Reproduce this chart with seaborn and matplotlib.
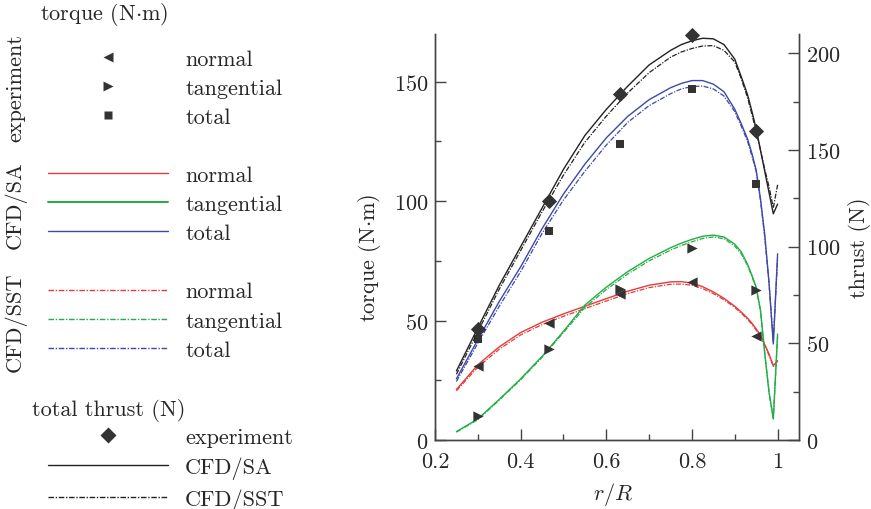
import matplotlib.pyplot as plt
import seaborn as sns
import pandas as pd
from matplotlib.lines import Line2D

# radial stations of the CFD curves
r_cfd = [0.25, 0.3, 0.35, 0.4, 0.45, 0.5, 0.55, 0.6, 0.65, 0.7, 0.75, 0.775,
         0.8, 0.825, 0.85, 0.875, 0.9, 0.915, 0.93, 0.94, 0.95, 0.96, 0.97,
         0.98, 0.99, 1.0]

# torque (N.m), CFD/SA
normal_sa = [21.1, 31.5, 39, 45, 49.3, 52.8, 56, 59.2, 62.3, 64.8, 66.2, 66.3,
             65.7, 64.2, 62, 59.3, 56, 53.6, 51, 48.9, 46.5, 44, 40, 36, 31.1,
             33.2]
tangential_sa = [3.5, 8.8, 17, 25.6, 35, 45.5, 56.5, 64, 70.5, 76, 80.5, 82.4,
                 84, 85.3, 85.8, 85, 82, 78.8, 73.5, 69, 64, 54.5, 36.5, 20,
                 8.8, 44.4]
total_sa = [25.6, 42, 58, 72.5, 88.5, 103, 115.5, 126.5, 135.5, 142.5, 147.5,
            149.3, 150.5, 150.5, 149, 145.8, 138.5, 132.5, 126, 120, 113, 101,
            86, 66, 40.2, 78]

# torque (N.m), CFD/SST
normal_sst = [20.6, 30.5, 38, 44, 48.3, 51.8, 55, 58.2, 61.3, 63.8, 65.2, 65.3,
              64.8, 63.4, 61.3, 58.7, 55.5, 53.1, 50.5, 48.4, 46, 43.5, 39.5,
              35.5, 30.8, 33]
tangential_sst = [3.3, 8.5, 16.7, 25.2, 34.6, 45, 55.5, 63, 69.5, 75, 79.5,
                  81.4, 83, 84.4, 85, 84.3, 81.2, 78, 73, 68.5, 63.5, 54, 36,
                  20, 9, 43.5]
total_sst = [24.5, 40.5, 56, 70.5, 86.5, 100.5, 112.5, 123.5, 133, 140, 145,
             147, 148, 148.2, 147, 144, 137.5, 131.5, 125, 119, 112.5, 100.5,
             85, 65.5, 41, 76]

# thrust (N)
thrust_sa = [35.7, 58, 80, 100, 120, 140, 157.5, 171, 183, 194, 201.5, 204.5,
             206.5, 207.8, 207.5, 204.5, 197, 188, 178.5, 170, 161, 150, 139,
             128, 117, 122]
thrust_sst = [34, 56, 78, 98, 118, 137, 154, 167.5, 179.5, 190, 198, 200.7,
              202.5, 203.8, 204, 201.5, 195.5, 187, 177, 168.5, 159.5, 150,
              140, 131, 120, 132]

# experiment
r_exp = [0.3, 0.467, 0.633, 0.8, 0.95]
normal_exp = [31.1, 48.9, 61.2, 66.1, 43.7]
tangential_exp = [10.2, 38.1, 63.3, 80.3, 62.6]
total_exp = [42.3, 87.6, 124.1, 147.1, 107.0]
thrust_exp = [57.2, 123.7, 178.9, 209.7, 160.0]

RED = '#e43b3b'
GREEN = '#23ad45'
BLUE = '#3f48a8'
BLACK = '#222222'
MK = '#333333'
SPINE = '#444444'
SST_LS = (0, (4, 1.2, 1, 1.2))

sns.set_style('ticks')
plt.rcParams['font.family'] = ['cmr10', 'DejaVu Serif']
plt.rcParams['mathtext.fontset'] = 'cm'
plt.rcParams['axes.formatter.use_mathtext'] = True
plt.rcParams['font.size'] = 16

cfd = pd.DataFrame({'r': r_cfd,
                    'normal_sa': normal_sa, 'tangential_sa': tangential_sa,
                    'total_sa': total_sa, 'normal_sst': normal_sst,
                    'tangential_sst': tangential_sst, 'total_sst': total_sst,
                    'thrust_sa': thrust_sa, 'thrust_sst': thrust_sst})

fig = plt.figure(figsize=(8.71, 5.10), dpi=100)
ax = fig.add_axes([435 / 871, 69 / 510, 364 / 871, 406 / 510])
ax2 = ax.twinx()

for name, color in [('normal', RED), ('tangential', GREEN), ('total', BLUE)]:
    sns.lineplot(data=cfd, x='r', y=name + '_sst', color=color, lw=0.9,
                 linestyle=SST_LS, ax=ax)
    sns.lineplot(data=cfd, x='r', y=name + '_sa', color=color, lw=1.0, ax=ax)

sns.lineplot(data=cfd, x='r', y='thrust_sst', color=BLACK, lw=0.9,
             linestyle=SST_LS, ax=ax2)
sns.lineplot(data=cfd, x='r', y='thrust_sa', color=BLACK, lw=1.0, ax=ax2)

sns.scatterplot(x=r_exp, y=normal_exp, marker='<', s=55, color=MK,
                linewidth=0, ax=ax, zorder=5)
sns.scatterplot(x=r_exp, y=tangential_exp, marker='>', s=55, color=MK,
                linewidth=0, ax=ax, zorder=5)
sns.scatterplot(x=r_exp, y=total_exp, marker='s', s=32, color=MK,
                linewidth=0, ax=ax, zorder=5)
sns.scatterplot(x=r_exp, y=thrust_exp, marker='D', s=60, color=MK,
                linewidth=0, ax=ax2, zorder=5, clip_on=False)

ax.set_xlim(0.2, 1.05)
ax.set_ylim(0, 170)
ax2.set_ylim(0, 210)
ax.set_xticks([0.2, 0.4, 0.6, 0.8, 1.0])
ax.set_xticklabels(['0.2', '0.4', '0.6', '0.8', '1'])
ax.set_xticks([0.3, 0.5, 0.7, 0.9], minor=True)
ax.set_yticks([0, 50, 100, 150])
ax.set_yticks([25, 75, 125], minor=True)
ax2.set_yticks([0, 50, 100, 150, 200])
ax2.set_yticks([25, 75, 125, 175], minor=True)

for a in (ax, ax2):
    a.spines['top'].set_visible(False)
    for s in a.spines.values():
        s.set_color(SPINE)
        s.set_linewidth(1.0)
    a.tick_params(which='major', direction='in', length=8, width=1.0,
                  color=SPINE, labelsize=16, pad=5)
    a.tick_params(which='minor', direction='in', length=4, width=1.0,
                  color=SPINE)
ax.tick_params(axis='y', which='both', right=False)
ax.tick_params(axis='x', which='both', top=False)
ax.tick_params(axis='x', which='major', pad=8)

ax.set_xlabel('$r/R$', fontsize=16)
ax.set_ylabel(r'torque (N$\cdot$m)', fontsize=16)
ax2.set_ylabel('thrust (N)', fontsize=16)
ax.xaxis.set_label_coords((613 - 435) / 364, -(481 - 441) / 406)
ax.yaxis.set_label_coords(-(435 - 383) / 364, (441 - 258) / 406)
ax2.yaxis.set_label_coords(1 + (848 - 799) / 364, (441 - 248) / 406)

# legend block on the left
blank = Line2D([], [], ls='none')
handles = [
    Line2D([], [], ls='none', marker='<', ms=7.5, color=MK, mec='none'),
    Line2D([], [], ls='none', marker='>', ms=7.5, color=MK, mec='none'),
    Line2D([], [], ls='none', marker='s', ms=5.5, color=MK, mec='none'),
    blank,
    Line2D([], [], color=RED, lw=1.0),
    Line2D([], [], color=GREEN, lw=1.4),
    Line2D([], [], color=BLUE, lw=1.0),
    blank,
    Line2D([], [], color=RED, lw=1.0, ls=SST_LS),
    Line2D([], [], color=GREEN, lw=1.0, ls=SST_LS),
    Line2D([], [], color=BLUE, lw=1.0, ls=SST_LS),
    blank,
    blank,
    Line2D([], [], ls='none', marker='D', ms=8, color=MK, mec='none'),
    Line2D([], [], color=BLACK, lw=1.0),
    Line2D([], [], color=BLACK, lw=1.0, ls=SST_LS),
]
labels = ['normal', 'tangential', 'total', ' ',
          'normal', 'tangential', 'total', ' ',
          'normal', 'tangential', 'total', ' ', ' ',
          'experiment', 'CFD/SA', 'CFD/SST']
fig.legend(handles, labels, loc='upper left',
           bbox_to_anchor=(48 / 871, 1 - 50 / 510), frameon=False,
           fontsize=16, handlelength=5.4, handletextpad=0.77,
           labelspacing=0.43, borderpad=0, borderaxespad=0, numpoints=1)

fig.text(40 / 871, 1 - 15 / 510, r'torque (N$\cdot$m)', ha='left',
         va='center', fontsize=16)
fig.text(32 / 871, 1 - 410 / 510, 'total thrust (N)', ha='left',
         va='center', fontsize=16)
fig.text(16 / 871, 1 - 88 / 510, 'experiment', rotation=90, ha='center',
         va='center', fontsize=16)
fig.text(16 / 871, 1 - 205 / 510, 'CFD/SA', rotation=90, ha='center',
         va='center', fontsize=16)
fig.text(16 / 871, 1 - 322 / 510, 'CFD/SST', rotation=90, ha='center',
         va='center', fontsize=16)

fig.savefig('out.png', dpi=100)
